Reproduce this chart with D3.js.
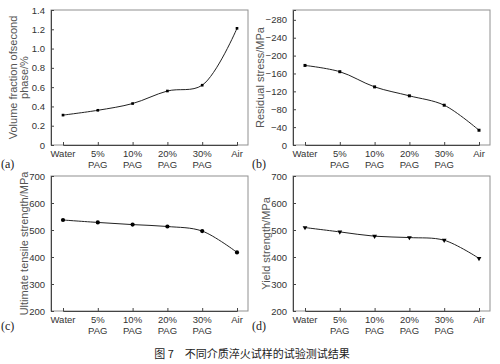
<!DOCTYPE html>
<html><head><meta charset="utf-8">
<script src="https://cdn.jsdelivr.net/npm/d3@7"></script>
<style>body{margin:0;background:#fff}svg{display:block}</style>
</head><body>
<svg id="c" width="500" height="364"></svg>
<script>
const categories = [["Water"],["5%","PAG"],["10%","PAG"],["20%","PAG"],["30%","PAG"],["Air"]];
const volumeFraction = [0.31, 0.36, 0.43, 0.56, 0.62, 1.21];
const residualStress = [-178, -164, -130, -110, -89, -33];
const tensileStrength = [537, 528, 520, 513, 496, 417];
const yieldStrength = [509, 493, 477, 472, 462, 395];
const ticksA = [0, 0.2, 0.4, 0.6, 0.8, 1.0, 1.2, 1.4];
const ticksB = [0, -40, -80, -120, -160, -200, -240, -280];
const ticksCD = [200, 300, 400, 500, 600, 700];
const titleA = ["Volume fraction ofsecond", "phase/%"];
const titleB = ["Residual stress/MPa"];
const titleC = ["Ultimate tensile strength/MPa"];
const titleD = ["Yield strength/MPa"];
const caption = "图 7\u2003不同介质淬火试样的试验测试结果";

const svg = d3.select("#c");
const FONT = "Liberation Sans, Arial, sans-serif";
const keys = categories.map((c,i)=>i);

function panel(o){
  const g = svg.append("g");
  const x = d3.scalePoint().domain(keys).range([o.left+12, o.right-11]);
  const y = d3.scaleLinear().domain(o.domain).range([o.bottom, o.top]);
  g.append("rect").attr("x",o.left).attr("y",o.top).attr("width",o.right-o.left).attr("height",o.bottom-o.top)
    .attr("fill","none").attr("stroke","#909090").attr("stroke-width",1);
  const ya = d3.axisLeft(y).tickValues(o.ticks).tickSize(-3).tickPadding(6).tickFormat(o.fmt);
  const yg = g.append("g").attr("transform",`translate(${o.left},0)`).call(ya);
  yg.select(".domain").attr("stroke","#444");
  yg.selectAll(".tick line").attr("stroke","#444");
  yg.selectAll("text").attr("font-family",FONT).attr("font-size",9.5).attr("fill","#333");
  const xa = d3.axisBottom(x).tickSize(-3).tickFormat("");
  const xg = g.append("g").attr("transform",`translate(0,${o.bottom})`).call(xa);
  xg.select(".domain").attr("stroke","#444");
  xg.selectAll(".tick line").attr("stroke","#444");
  const lab = g.append("g").selectAll("text").data(categories).join("text")
    .attr("x",(d,i)=>x(i)).attr("y",o.bottom+12)
    .attr("text-anchor","middle").attr("font-family",FONT).attr("font-size",9.5).attr("fill","#333");
  lab.selectAll("tspan").data(d=>d).join("tspan")
    .attr("x",function(){return this.parentNode.getAttribute("x");})
    .attr("dy",(d,i)=>i===0?0:10.5).text(d=>d);
  const t = g.append("text").attr("transform",`translate(${o.titleX},${(o.top+o.bottom)/2}) rotate(-90)`)
    .attr("text-anchor","middle").attr("font-family",FONT).attr("font-size",11).attr("fill","#555");
  t.selectAll("tspan").data(o.title).join("tspan").attr("x",0).attr("dy",(d,i)=>i===0?0:10.5).text(d=>d);
  const line = d3.line().x((d,i)=>x(i)).y(d=>y(d)).curve(d3.curveCatmullRom.alpha(0.5));
  g.append("path").datum(o.values).attr("d",line).attr("fill","none").attr("stroke","#222").attr("stroke-width",1);
  const sym = d3.symbol().type(o.symbol).size(o.size);
  g.selectAll("path.m").data(o.values).join("path").attr("class","m")
    .attr("transform",(d,i)=>`translate(${x(i)},${y(d)})${o.symbol===d3.symbolTriangle?" rotate(180)":""}`)
    .attr("d",sym).attr("fill","#000");
  g.append("text").attr("x",o.labX).attr("y",o.labY).attr("font-family","Liberation Serif, Times New Roman, serif")
    .attr("font-size",12).attr("fill","#222").text(o.label);
}

const fmtA = d=> d===0 ? "0" : d3.format(".1f")(d);
const fmtB = d=> d===0 ? "0" : "\u2212"+Math.abs(d);

panel({left:51,right:248,top:10,bottom:145,domain:[0,1.4],ticks:ticksA,fmt:fmtA,values:volumeFraction,
  symbol:d3.symbolSquare,size:7,title:titleA,titleX:17,label:"(a)",labX:1,labY:168});
panel({left:293,right:490,top:10,bottom:145,domain:[0,-302],ticks:ticksB,fmt:fmtB,values:residualStress,
  symbol:d3.symbolSquare,size:9,title:titleB,titleX:264,label:"(b)",labX:252,labY:168});
panel({left:51,right:248,top:176,bottom:311,domain:[200,700],ticks:ticksCD,fmt:d3.format("d"),values:tensileStrength,
  symbol:d3.symbolCircle,size:14,title:titleC,titleX:28,label:"(c)",labX:1,labY:330});
panel({left:293,right:490,top:176,bottom:311,domain:[200,700],ticks:ticksCD,fmt:d3.format("d"),values:yieldStrength,
  symbol:d3.symbolTriangle,size:10,title:titleD,titleX:270,label:"(d)",labX:252,labY:330});

svg.append("text").attr("x",252).attr("y",358).attr("text-anchor","middle")
  .attr("font-family","Noto Sans CJK SC, sans-serif").attr("font-size",11).attr("fill","#222").text(caption);
</script>
</body></html>
